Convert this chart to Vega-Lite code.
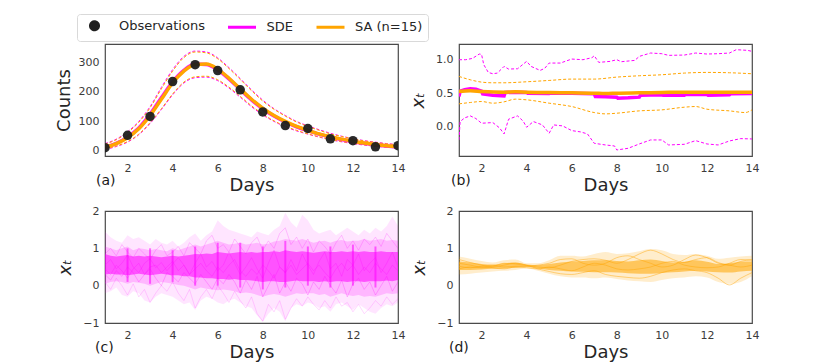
{
  "$schema": "https://vega.github.io/schema/vega-lite/v6.json",
  "padding": {"left": 54, "top": 13, "right": 5, "bottom": 4},
  "background": "white",
  "config": {
    "font": "DejaVu Sans",
    "view": {"stroke": "#4a4a4a", "strokeWidth": 1.2},
    "axis": {"domain": false, "ticks": false, "grid": false, "labelFont": "DejaVu Sans", "labelFontSize": 11, "labelColor": "#3b3b3b", "labelPadding": 6, "titleFont": "DejaVu Sans", "titleFontSize": 18, "titleFontWeight": "normal", "titleColor": "#262626", "labelFlush": false, "labelOverlap": false},
    "axisX": {"titlePadding": 3},
    "axisY": {"titlePadding": 5},
    "title": {"font": "DejaVu Sans", "fontSize": 14, "fontWeight": "normal", "color": "#1a1a1a", "orient": "bottom", "anchor": "start", "frame": "group", "offset": -20}
  },
  "resolve": {"scale": {"color": "shared"}, "legend": {"color": "shared"}},
  "columns": 2,
  "spacing": {"row": 9, "column": 2},
  "datasets": {
    "a": [
      {"d": 1, "m": 12, "ms": 13, "hi": 25, "hi2": 23, "lo": 5, "lo2": 7},
      {"d": 1.5, "m": 25, "ms": 26, "hi": 40, "hi2": 38, "lo": 15, "lo2": 17},
      {"d": 2, "m": 45, "ms": 47, "hi": 65, "hi2": 62, "lo": 30, "lo2": 32},
      {"d": 2.5, "m": 75, "ms": 78, "hi": 100, "hi2": 97, "lo": 55, "lo2": 57},
      {"d": 3, "m": 120, "ms": 124, "hi": 150, "hi2": 146, "lo": 93, "lo2": 96},
      {"d": 3.5, "m": 175, "ms": 180, "hi": 215, "hi2": 210, "lo": 140, "lo2": 143},
      {"d": 4, "m": 230, "ms": 234, "hi": 275, "hi2": 270, "lo": 190, "lo2": 193},
      {"d": 4.5, "m": 270, "ms": 273, "hi": 320, "hi2": 316, "lo": 230, "lo2": 233},
      {"d": 5, "m": 293, "ms": 294, "hi": 338, "hi2": 335, "lo": 248, "lo2": 251},
      {"d": 5.5, "m": 294, "ms": 293, "hi": 335, "hi2": 332, "lo": 250, "lo2": 253},
      {"d": 6, "m": 277, "ms": 275, "hi": 315, "hi2": 312, "lo": 238, "lo2": 241},
      {"d": 6.5, "m": 246, "ms": 244, "hi": 282, "hi2": 279, "lo": 213, "lo2": 216},
      {"d": 7, "m": 210, "ms": 208, "hi": 245, "hi2": 242, "lo": 182, "lo2": 185},
      {"d": 7.5, "m": 175, "ms": 173, "hi": 207, "hi2": 204, "lo": 150, "lo2": 153},
      {"d": 8, "m": 145, "ms": 143, "hi": 172, "hi2": 169, "lo": 122, "lo2": 125},
      {"d": 8.5, "m": 120, "ms": 118, "hi": 143, "hi2": 141, "lo": 100, "lo2": 102},
      {"d": 9, "m": 100, "ms": 98, "hi": 120, "hi2": 118, "lo": 82, "lo2": 84},
      {"d": 9.5, "m": 83, "ms": 82, "hi": 100, "hi2": 98, "lo": 68, "lo2": 70},
      {"d": 10, "m": 70, "ms": 69, "hi": 85, "hi2": 83, "lo": 57, "lo2": 58},
      {"d": 10.5, "m": 58, "ms": 57, "hi": 72, "hi2": 70, "lo": 47, "lo2": 48},
      {"d": 11, "m": 48, "ms": 47, "hi": 60, "hi2": 58, "lo": 38, "lo2": 39},
      {"d": 11.5, "m": 40, "ms": 39, "hi": 50, "hi2": 49, "lo": 31, "lo2": 32},
      {"d": 12, "m": 33, "ms": 32, "hi": 42, "hi2": 41, "lo": 25, "lo2": 26},
      {"d": 12.5, "m": 27, "ms": 26, "hi": 35, "hi2": 34, "lo": 20, "lo2": 21},
      {"d": 13, "m": 22, "ms": 21, "hi": 30, "hi2": 29, "lo": 16, "lo2": 17},
      {"d": 13.5, "m": 18, "ms": 17, "hi": 25, "hi2": 24, "lo": 13, "lo2": 14},
      {"d": 14, "m": 15, "ms": 14, "hi": 22, "hi2": 21, "lo": 10, "lo2": 11}
    ],
    "obs": [
      {"d": 1, "c": 11}, {"d": 2, "c": 53}, {"d": 3, "c": 117}, {"d": 4, "c": 235}, {"d": 5, "c": 292}, {"d": 6, "c": 272}, {"d": 7, "c": 207},
      {"d": 8, "c": 132}, {"d": 9, "c": 86}, {"d": 10, "c": 76}, {"d": 11, "c": 41}, {"d": 12, "c": 35}, {"d": 13, "c": 14}, {"d": 14, "c": 18}
    ],
    "b_sde_hi": [
      {"d": 1, "v": 1.0}, {"d": 1.3, "v": 1.0}, {"d": 1.6, "v": 1.02}, {"d": 1.9, "v": 1.085}, {"d": 2.0, "v": 1.08}, {"d": 2.1, "v": 0.925}, {"d": 2.3, "v": 0.81}, {"d": 2.5, "v": 0.79}, {"d": 2.7, "v": 0.8}, {"d": 3.0, "v": 0.9}, {"d": 3.2, "v": 0.86}, {"d": 3.6, "v": 0.865}, {"d": 4.0, "v": 0.975}, {"d": 4.2, "v": 0.9}, {"d": 4.6, "v": 0.84}, {"d": 4.8, "v": 0.87}, {"d": 5.0, "v": 0.95}, {"d": 5.5, "v": 0.95}, {"d": 6.0, "v": 1.01}, {"d": 6.5, "v": 1.0}, {"d": 6.9, "v": 1.03}, {"d": 7.0, "v": 1.06}, {"d": 7.2, "v": 0.96}, {"d": 7.7, "v": 0.975}, {"d": 8.0, "v": 1.0}, {"d": 8.2, "v": 0.97}, {"d": 8.8, "v": 0.99}, {"d": 9.0, "v": 1.05}, {"d": 9.5, "v": 1.1}, {"d": 10.0, "v": 1.09}, {"d": 10.3, "v": 1.065}, {"d": 11, "v": 1.07}, {"d": 11.5, "v": 1.1}, {"d": 12, "v": 1.085}, {"d": 12.5, "v": 1.09}, {"d": 13, "v": 1.1}, {"d": 13.3, "v": 1.15}, {"d": 13.8, "v": 1.14}, {"d": 14, "v": 1.125}
    ],
    "b_sde_lo": [
      {"d": 1.0, "v": -0.2}, {"d": 1.05, "v": 0.075}, {"d": 1.25, "v": 0.13}, {"d": 1.5, "v": 0.16}, {"d": 1.75, "v": 0.12}, {"d": 2.0, "v": 0.05}, {"d": 2.5, "v": 0.06}, {"d": 2.8, "v": -0.02}, {"d": 3.0, "v": -0.11}, {"d": 3.2, "v": 0.11}, {"d": 3.6, "v": 0.16}, {"d": 3.85, "v": 0.08}, {"d": 4.0, "v": -0.01}, {"d": 4.3, "v": 0.075}, {"d": 4.7, "v": 0.025}, {"d": 5.0, "v": -0.1}, {"d": 5.2, "v": 0.025}, {"d": 5.6, "v": 0.01}, {"d": 6.0, "v": -0.06}, {"d": 6.4, "v": -0.08}, {"d": 6.7, "v": -0.11}, {"d": 7.0, "v": -0.25}, {"d": 7.5, "v": -0.275}, {"d": 7.9, "v": -0.29}, {"d": 8.0, "v": -0.35}, {"d": 8.5, "v": -0.325}, {"d": 9.0, "v": -0.26}, {"d": 9.5, "v": -0.2}, {"d": 10.0, "v": -0.2}, {"d": 10.3, "v": -0.275}, {"d": 11, "v": -0.265}, {"d": 11.5, "v": -0.21}, {"d": 12, "v": -0.26}, {"d": 12.5, "v": -0.275}, {"d": 13, "v": -0.215}, {"d": 13.5, "v": -0.18}, {"d": 14, "v": -0.185}
    ],
    "b_sa_hi": [
      {"d": 1, "v": 0.75}, {"d": 1.5, "v": 0.7}, {"d": 2, "v": 0.665}, {"d": 2.5, "v": 0.655}, {"d": 3, "v": 0.655}, {"d": 4, "v": 0.67}, {"d": 5, "v": 0.69}, {"d": 6, "v": 0.71}, {"d": 7, "v": 0.71}, {"d": 8, "v": 0.74}, {"d": 9, "v": 0.76}, {"d": 10, "v": 0.775}, {"d": 11, "v": 0.8}, {"d": 12, "v": 0.81}, {"d": 13, "v": 0.805}, {"d": 14, "v": 0.79}
    ],
    "b_sa_lo": [
      {"d": 1, "v": 0.34}, {"d": 1.5, "v": 0.36}, {"d": 2, "v": 0.375}, {"d": 2.5, "v": 0.35}, {"d": 3, "v": 0.37}, {"d": 3.5, "v": 0.41}, {"d": 4, "v": 0.4}, {"d": 5, "v": 0.35}, {"d": 6, "v": 0.3}, {"d": 7, "v": 0.21}, {"d": 7.5, "v": 0.19}, {"d": 8, "v": 0.2}, {"d": 9, "v": 0.235}, {"d": 10, "v": 0.25}, {"d": 11, "v": 0.29}, {"d": 11.5, "v": 0.3}, {"d": 12, "v": 0.26}, {"d": 13, "v": 0.235}, {"d": 13.7, "v": 0.21}, {"d": 14, "v": 0.25}
    ],
    "b_sde_m": [
      {"d": 1.0, "v": 0.45}, {"d": 1.05, "v": 0.53}, {"d": 1.25, "v": 0.55}, {"d": 1.5, "v": 0.565}, {"d": 1.75, "v": 0.56}, {"d": 2.0, "v": 0.53}, {"d": 2.05, "v": 0.49}, {"d": 2.5, "v": 0.47}, {"d": 3.0, "v": 0.46}, {"d": 3.05, "v": 0.51}, {"d": 3.5, "v": 0.515}, {"d": 4.0, "v": 0.51}, {"d": 4.05, "v": 0.5}, {"d": 5.0, "v": 0.495}, {"d": 5.05, "v": 0.5}, {"d": 6.0, "v": 0.5}, {"d": 7.0, "v": 0.49}, {"d": 7.05, "v": 0.45}, {"d": 7.5, "v": 0.445}, {"d": 8.0, "v": 0.44}, {"d": 8.05, "v": 0.425}, {"d": 8.5, "v": 0.43}, {"d": 9.0, "v": 0.44}, {"d": 9.05, "v": 0.47}, {"d": 10, "v": 0.475}, {"d": 10.05, "v": 0.47}, {"d": 11, "v": 0.47}, {"d": 11.05, "v": 0.48}, {"d": 12, "v": 0.48}, {"d": 12.05, "v": 0.47}, {"d": 13, "v": 0.475}, {"d": 13.05, "v": 0.49}, {"d": 14, "v": 0.495}
    ],
    "b_sa_m": [
      {"d": 1, "v": 0.525}, {"d": 1.5, "v": 0.535}, {"d": 2, "v": 0.525}, {"d": 3, "v": 0.515}, {"d": 3.5, "v": 0.52}, {"d": 4, "v": 0.515}, {"d": 5, "v": 0.51}, {"d": 6, "v": 0.505}, {"d": 7, "v": 0.5}, {"d": 7.5, "v": 0.495}, {"d": 8, "v": 0.5}, {"d": 9, "v": 0.505}, {"d": 10, "v": 0.51}, {"d": 11, "v": 0.515}, {"d": 12, "v": 0.515}, {"d": 13, "v": 0.515}, {"d": 14, "v": 0.515}
    ],
    "c": [
      {"d": 1, "lo1": -0.2, "hi1": 1.45, "lo2": 0.05, "hi2": 1.05, "lo3": 0.3, "hi3": 0.85, "l1": 0.55, "l2": 0.3, "l3": 0.85, "l4": 0.45, "l5": 0.1},
      {"d": 1.25, "lo1": -0.15, "hi1": 1.3, "lo2": 0.1, "hi2": 1.0, "lo3": 0.32, "hi3": 0.8, "l1": 0.7, "l2": 0.15, "l3": 1.0, "l4": 0.3, "l5": -0.1},
      {"d": 1.5, "lo1": -0.05, "hi1": 1.2, "lo2": 0.12, "hi2": 0.95, "lo3": 0.3, "hi3": 0.78, "l1": 0.45, "l2": 0.4, "l3": 0.8, "l4": 0.55, "l5": 0.2},
      {"d": 1.75, "lo1": -0.25, "hi1": 1.15, "lo2": 0.1, "hi2": 1.0, "lo3": 0.3, "hi3": 0.8, "l1": 0.6, "l2": 0.25, "l3": 1.1, "l4": 0.4, "l5": 0.0},
      {"d": 2, "lo1": -0.3, "hi1": 1.35, "lo2": 0.05, "hi2": 1.05, "lo3": 0.28, "hi3": 0.82, "l1": 0.82, "l2": 0.5, "l3": 0.9, "l4": 0.2, "l5": -0.25},
      {"d": 2.25, "lo1": -0.15, "hi1": 1.25, "lo2": 0.1, "hi2": 0.95, "lo3": 0.3, "hi3": 0.78, "l1": 0.5, "l2": 0.35, "l3": 0.75, "l4": 0.45, "l5": 0.05},
      {"d": 2.5, "lo1": -0.2, "hi1": 1.3, "lo2": 0.08, "hi2": 1.0, "lo3": 0.32, "hi3": 0.8, "l1": 0.35, "l2": 0.1, "l3": 1.0, "l4": 0.6, "l5": -0.3},
      {"d": 2.75, "lo1": -0.4, "hi1": 1.2, "lo2": 0.05, "hi2": 0.98, "lo3": 0.3, "hi3": 0.78, "l1": 0.6, "l2": 0.3, "l3": 0.85, "l4": 0.3, "l5": -0.1},
      {"d": 3, "lo1": -0.45, "hi1": 1.1, "lo2": 0.0, "hi2": 0.95, "lo3": 0.28, "hi3": 0.8, "l1": 0.72, "l2": 0.45, "l3": 0.7, "l4": 0.5, "l5": -0.45},
      {"d": 3.25, "lo1": -0.3, "hi1": 1.25, "lo2": 0.05, "hi2": 0.98, "lo3": 0.3, "hi3": 0.78, "l1": 0.48, "l2": 0.2, "l3": 0.95, "l4": 0.55, "l5": -0.2},
      {"d": 3.5, "lo1": -0.2, "hi1": 1.15, "lo2": 0.1, "hi2": 0.95, "lo3": 0.32, "hi3": 0.76, "l1": 0.62, "l2": 0.0, "l3": 1.1, "l4": 0.35, "l5": 0.0},
      {"d": 3.75, "lo1": -0.25, "hi1": 1.1, "lo2": 0.08, "hi2": 0.92, "lo3": 0.3, "hi3": 0.78, "l1": 0.4, "l2": 0.35, "l3": 0.8, "l4": 0.5, "l5": -0.15},
      {"d": 4, "lo1": -0.3, "hi1": 1.2, "lo2": 0.05, "hi2": 1.0, "lo3": 0.28, "hi3": 0.8, "l1": 0.58, "l2": 0.25, "l3": 0.9, "l4": 0.65, "l5": 0.1},
      {"d": 4.25, "lo1": -0.4, "hi1": 1.05, "lo2": 0.02, "hi2": 0.95, "lo3": 0.28, "hi3": 0.78, "l1": 0.75, "l2": 0.1, "l3": 1.05, "l4": 0.4, "l5": -0.2},
      {"d": 4.5, "lo1": -0.5, "hi1": 1.15, "lo2": 0.0, "hi2": 1.0, "lo3": 0.25, "hi3": 0.8, "l1": 0.55, "l2": 0.35, "l3": 0.8, "l4": 0.55, "l5": -0.4},
      {"d": 4.75, "lo1": -0.45, "hi1": 1.3, "lo2": -0.05, "hi2": 1.05, "lo3": 0.25, "hi3": 0.82, "l1": 0.3, "l2": 0.2, "l3": 1.15, "l4": 0.3, "l5": -0.1},
      {"d": 5, "lo1": -0.65, "hi1": 1.4, "lo2": -0.1, "hi2": 1.1, "lo3": 0.22, "hi3": 0.85, "l1": 0.6, "l2": 0.05, "l3": 1.0, "l4": 0.45, "l5": -0.6},
      {"d": 5.25, "lo1": -0.4, "hi1": 1.2, "lo2": -0.05, "hi2": 1.05, "lo3": 0.22, "hi3": 0.84, "l1": 0.85, "l2": 0.3, "l3": 0.85, "l4": 0.6, "l5": -0.3},
      {"d": 5.5, "lo1": -0.3, "hi1": 1.35, "lo2": -0.08, "hi2": 1.1, "lo3": 0.2, "hi3": 0.86, "l1": 0.5, "l2": 0.1, "l3": 1.2, "l4": 0.4, "l5": -0.1},
      {"d": 5.75, "lo1": -0.35, "hi1": 1.45, "lo2": -0.1, "hi2": 1.15, "lo3": 0.2, "hi3": 0.85, "l1": 0.65, "l2": -0.1, "l3": 1.35, "l4": 0.25, "l5": -0.35},
      {"d": 6, "lo1": -0.45, "hi1": 1.75, "lo2": -0.12, "hi2": 1.2, "lo3": 0.18, "hi3": 0.9, "l1": 0.4, "l2": 0.2, "l3": 1.0, "l4": 0.5, "l5": 0.0},
      {"d": 6.25, "lo1": -0.5, "hi1": 1.6, "lo2": -0.1, "hi2": 1.15, "lo3": 0.18, "hi3": 0.88, "l1": 0.55, "l2": 0.05, "l3": 1.1, "l4": 0.35, "l5": -0.2},
      {"d": 6.5, "lo1": -0.4, "hi1": 1.5, "lo2": -0.12, "hi2": 1.1, "lo3": 0.16, "hi3": 0.86, "l1": 0.9, "l2": 0.3, "l3": 0.9, "l4": 0.55, "l5": -0.45},
      {"d": 6.75, "lo1": -0.35, "hi1": 1.45, "lo2": -0.15, "hi2": 1.12, "lo3": 0.18, "hi3": 0.88, "l1": 0.6, "l2": 0.1, "l3": 1.25, "l4": 0.7, "l5": -0.15},
      {"d": 7, "lo1": -0.45, "hi1": 1.4, "lo2": -0.2, "hi2": 1.15, "lo3": 0.15, "hi3": 0.9, "l1": 0.3, "l2": -0.2, "l3": 1.05, "l4": 0.4, "l5": -0.4},
      {"d": 7.25, "lo1": -0.55, "hi1": 1.35, "lo2": -0.18, "hi2": 1.1, "lo3": 0.15, "hi3": 0.88, "l1": 0.5, "l2": 0.15, "l3": 0.85, "l4": 0.25, "l5": -0.6},
      {"d": 7.5, "lo1": -0.6, "hi1": 1.3, "lo2": -0.2, "hi2": 1.12, "lo3": 0.14, "hi3": 0.9, "l1": 0.75, "l2": -0.1, "l3": 1.15, "l4": 0.45, "l5": -0.3},
      {"d": 7.75, "lo1": -0.8, "hi1": 1.45, "lo2": -0.25, "hi2": 1.15, "lo3": 0.12, "hi3": 0.88, "l1": 0.45, "l2": 0.25, "l3": 1.3, "l4": 0.3, "l5": -0.75},
      {"d": 8, "lo1": -0.97, "hi1": 1.4, "lo2": -0.3, "hi2": 1.1, "lo3": 0.1, "hi3": 0.9, "l1": 0.2, "l2": -0.3, "l3": 0.95, "l4": 0.55, "l5": -0.95},
      {"d": 8.25, "lo1": -0.75, "hi1": 1.35, "lo2": -0.25, "hi2": 1.12, "lo3": 0.12, "hi3": 0.9, "l1": 0.6, "l2": 0.0, "l3": 1.2, "l4": 0.4, "l5": -0.5},
      {"d": 8.5, "lo1": -0.6, "hi1": 1.5, "lo2": -0.22, "hi2": 1.18, "lo3": 0.12, "hi3": 0.92, "l1": 0.95, "l2": 0.3, "l3": 1.0, "l4": 0.2, "l5": -0.7},
      {"d": 8.75, "lo1": -0.7, "hi1": 1.6, "lo2": -0.25, "hi2": 1.2, "lo3": 0.1, "hi3": 0.9, "l1": 0.5, "l2": -0.2, "l3": 1.4, "l4": 0.5, "l5": -0.4},
      {"d": 9, "lo1": -0.95, "hi1": 1.95, "lo2": -0.3, "hi2": 1.25, "lo3": 0.1, "hi3": 0.95, "l1": 0.35, "l2": 0.1, "l3": 1.55, "l4": 0.35, "l5": -0.9},
      {"d": 9.25, "lo1": -0.6, "hi1": 1.7, "lo2": -0.25, "hi2": 1.22, "lo3": 0.12, "hi3": 0.92, "l1": 0.7, "l2": -0.15, "l3": 1.1, "l4": 0.55, "l5": -0.6},
      {"d": 9.5, "lo1": -0.5, "hi1": 1.55, "lo2": -0.2, "hi2": 1.2, "lo3": 0.14, "hi3": 0.9, "l1": 0.4, "l2": 0.2, "l3": 1.3, "l4": 0.3, "l5": -0.35},
      {"d": 9.75, "lo1": -0.55, "hi1": 1.9, "lo2": -0.22, "hi2": 1.25, "lo3": 0.12, "hi3": 0.92, "l1": 0.85, "l2": 0.05, "l3": 1.0, "l4": 0.45, "l5": -0.55},
      {"d": 10, "lo1": -0.45, "hi1": 1.75, "lo2": -0.2, "hi2": 1.2, "lo3": 0.12, "hi3": 0.9, "l1": 0.55, "l2": -0.25, "l3": 1.25, "l4": 0.6, "l5": -0.3},
      {"d": 10.25, "lo1": -0.5, "hi1": 1.5, "lo2": -0.2, "hi2": 1.15, "lo3": 0.12, "hi3": 0.88, "l1": 0.3, "l2": 0.1, "l3": 0.9, "l4": 0.4, "l5": -0.5},
      {"d": 10.5, "lo1": -0.6, "hi1": 1.4, "lo2": -0.25, "hi2": 1.18, "lo3": 0.1, "hi3": 0.9, "l1": 0.65, "l2": -0.1, "l3": 1.2, "l4": 0.55, "l5": -0.65},
      {"d": 10.75, "lo1": -0.55, "hi1": 1.45, "lo2": -0.22, "hi2": 1.2, "lo3": 0.12, "hi3": 0.92, "l1": 0.9, "l2": 0.25, "l3": 1.05, "l4": 0.35, "l5": -0.4},
      {"d": 11, "lo1": -0.7, "hi1": 1.5, "lo2": -0.3, "hi2": 1.15, "lo3": 0.1, "hi3": 0.9, "l1": 0.45, "l2": 0.0, "l3": 0.85, "l4": 0.2, "l5": -0.6},
      {"d": 11.25, "lo1": -0.5, "hi1": 1.35, "lo2": -0.25, "hi2": 1.2, "lo3": 0.12, "hi3": 0.9, "l1": 0.6, "l2": -0.2, "l3": 1.15, "l4": 0.45, "l5": -0.3},
      {"d": 11.5, "lo1": -0.45, "hi1": 1.45, "lo2": -0.2, "hi2": 1.22, "lo3": 0.12, "hi3": 0.92, "l1": 0.25, "l2": 0.15, "l3": 1.35, "l4": 0.6, "l5": -0.55},
      {"d": 11.75, "lo1": -0.55, "hi1": 1.55, "lo2": -0.25, "hi2": 1.18, "lo3": 0.1, "hi3": 0.9, "l1": 0.7, "l2": -0.3, "l3": 1.0, "l4": 0.4, "l5": -0.45},
      {"d": 12, "lo1": -0.65, "hi1": 1.45, "lo2": -0.28, "hi2": 1.2, "lo3": 0.12, "hi3": 0.92, "l1": 0.55, "l2": 0.05, "l3": 1.2, "l4": 0.55, "l5": -0.7},
      {"d": 12.25, "lo1": -0.5, "hi1": 1.35, "lo2": -0.25, "hi2": 1.2, "lo3": 0.12, "hi3": 0.9, "l1": 0.85, "l2": 0.2, "l3": 0.95, "l4": 0.3, "l5": -0.5},
      {"d": 12.5, "lo1": -0.6, "hi1": 1.5, "lo2": -0.3, "hi2": 1.25, "lo3": 0.1, "hi3": 0.92, "l1": 0.4, "l2": -0.1, "l3": 1.25, "l4": 0.5, "l5": -0.75},
      {"d": 12.75, "lo1": -0.7, "hi1": 1.4, "lo2": -0.28, "hi2": 1.2, "lo3": 0.12, "hi3": 0.9, "l1": 0.6, "l2": 0.1, "l3": 1.1, "l4": 0.35, "l5": -0.6},
      {"d": 13, "lo1": -0.75, "hi1": 1.55, "lo2": -0.3, "hi2": 1.22, "lo3": 0.12, "hi3": 0.9, "l1": 0.75, "l2": -0.25, "l3": 1.3, "l4": 0.6, "l5": -0.4},
      {"d": 13.25, "lo1": -0.6, "hi1": 1.45, "lo2": -0.25, "hi2": 1.25, "lo3": 0.12, "hi3": 0.92, "l1": 0.35, "l2": 0.0, "l3": 1.05, "l4": 0.45, "l5": -0.55},
      {"d": 13.5, "lo1": -0.5, "hi1": 1.6, "lo2": -0.2, "hi2": 1.2, "lo3": 0.14, "hi3": 0.9, "l1": 0.6, "l2": 0.25, "l3": 1.4, "l4": 0.3, "l5": -0.3},
      {"d": 13.75, "lo1": -0.55, "hi1": 1.85, "lo2": -0.22, "hi2": 1.22, "lo3": 0.12, "hi3": 0.9, "l1": 0.9, "l2": -0.15, "l3": 1.2, "l4": 0.55, "l5": -0.5},
      {"d": 14, "lo1": -0.45, "hi1": 1.6, "lo2": -0.2, "hi2": 1.2, "lo3": 0.15, "hi3": 0.9, "l1": 0.5, "l2": 0.1, "l3": 1.0, "l4": 0.4, "l5": -0.35}
    ],
    "cs": [
      {"d": 2, "lo": 0.1, "hi": 1.0}, {"d": 3, "lo": 0.05, "hi": 1.0}, {"d": 4, "lo": 0.1, "hi": 0.95}, {"d": 5, "lo": 0.0, "hi": 1.05},
      {"d": 6, "lo": 0.0, "hi": 1.15}, {"d": 7, "lo": -0.05, "hi": 1.15}, {"d": 8, "lo": -0.1, "hi": 1.05}, {"d": 9, "lo": -0.05, "hi": 1.2},
      {"d": 10, "lo": 0.0, "hi": 1.05}, {"d": 11, "lo": -0.05, "hi": 1.05}, {"d": 12, "lo": 0.0, "hi": 1.1}, {"d": 13, "lo": -0.05, "hi": 1.05}
    ],
    "dd": [
      {"d": 1, "olo": 0.3, "ohi": 0.78, "ilo": 0.42, "ihi": 0.65, "m1": 0.6, "m2": 0.45, "m3": 0.52, "m4": 0.7},
      {"d": 1.5, "olo": 0.32, "ohi": 0.72, "ilo": 0.42, "ihi": 0.62, "m1": 0.55, "m2": 0.5, "m3": 0.48, "m4": 0.62},
      {"d": 2, "olo": 0.35, "ohi": 0.66, "ilo": 0.43, "ihi": 0.58, "m1": 0.5, "m2": 0.48, "m3": 0.52, "m4": 0.55},
      {"d": 2.5, "olo": 0.38, "ohi": 0.62, "ilo": 0.45, "ihi": 0.56, "m1": 0.52, "m2": 0.5, "m3": 0.55, "m4": 0.48},
      {"d": 3, "olo": 0.4, "ohi": 0.68, "ilo": 0.46, "ihi": 0.6, "m1": 0.6, "m2": 0.55, "m3": 0.5, "m4": 0.45},
      {"d": 3.5, "olo": 0.42, "ohi": 0.7, "ilo": 0.48, "ihi": 0.62, "m1": 0.58, "m2": 0.6, "m3": 0.52, "m4": 0.5},
      {"d": 4, "olo": 0.46, "ohi": 0.6, "ilo": 0.5, "ihi": 0.57, "m1": 0.54, "m2": 0.55, "m3": 0.52, "m4": 0.48},
      {"d": 4.5, "olo": 0.4, "ohi": 0.6, "ilo": 0.46, "ihi": 0.55, "m1": 0.5, "m2": 0.45, "m3": 0.55, "m4": 0.45},
      {"d": 5, "olo": 0.32, "ohi": 0.68, "ilo": 0.42, "ihi": 0.58, "m1": 0.48, "m2": 0.38, "m3": 0.6, "m4": 0.5},
      {"d": 5.5, "olo": 0.25, "ohi": 0.8, "ilo": 0.4, "ihi": 0.62, "m1": 0.55, "m2": 0.32, "m3": 0.7, "m4": 0.45},
      {"d": 6, "olo": 0.22, "ohi": 0.8, "ilo": 0.38, "ihi": 0.65, "m1": 0.65, "m2": 0.3, "m3": 0.72, "m4": 0.4},
      {"d": 6.5, "olo": 0.22, "ohi": 0.78, "ilo": 0.37, "ihi": 0.66, "m1": 0.7, "m2": 0.35, "m3": 0.6, "m4": 0.5},
      {"d": 7, "olo": 0.2, "ohi": 0.85, "ilo": 0.36, "ihi": 0.68, "m1": 0.72, "m2": 0.4, "m3": 0.55, "m4": 0.6},
      {"d": 7.5, "olo": 0.22, "ohi": 0.9, "ilo": 0.36, "ihi": 0.68, "m1": 0.68, "m2": 0.3, "m3": 0.6, "m4": 0.55},
      {"d": 8, "olo": 0.18, "ohi": 0.85, "ilo": 0.35, "ihi": 0.66, "m1": 0.6, "m2": 0.25, "m3": 0.75, "m4": 0.45},
      {"d": 8.5, "olo": 0.14, "ohi": 0.87, "ilo": 0.33, "ihi": 0.65, "m1": 0.7, "m2": 0.22, "m3": 0.8, "m4": 0.42},
      {"d": 9, "olo": 0.12, "ohi": 0.92, "ilo": 0.32, "ihi": 0.68, "m1": 0.85, "m2": 0.2, "m3": 0.7, "m4": 0.45},
      {"d": 9.5, "olo": 0.1, "ohi": 0.98, "ilo": 0.32, "ihi": 0.7, "m1": 0.95, "m2": 0.25, "m3": 0.6, "m4": 0.5},
      {"d": 10, "olo": 0.15, "ohi": 0.95, "ilo": 0.34, "ihi": 0.66, "m1": 0.85, "m2": 0.35, "m3": 0.5, "m4": 0.6},
      {"d": 10.5, "olo": 0.2, "ohi": 0.85, "ilo": 0.36, "ihi": 0.62, "m1": 0.7, "m2": 0.42, "m3": 0.55, "m4": 0.65},
      {"d": 11, "olo": 0.22, "ohi": 0.82, "ilo": 0.38, "ihi": 0.64, "m1": 0.62, "m2": 0.45, "m3": 0.7, "m4": 0.55},
      {"d": 11.5, "olo": 0.25, "ohi": 0.85, "ilo": 0.4, "ihi": 0.68, "m1": 0.7, "m2": 0.4, "m3": 0.82, "m4": 0.5},
      {"d": 12, "olo": 0.22, "ohi": 0.8, "ilo": 0.38, "ihi": 0.64, "m1": 0.75, "m2": 0.35, "m3": 0.75, "m4": 0.48},
      {"d": 12.5, "olo": 0.1, "ohi": 0.72, "ilo": 0.36, "ihi": 0.58, "m1": 0.62, "m2": 0.2, "m3": 0.6, "m4": 0.5},
      {"d": 13, "olo": 0.05, "ohi": 0.75, "ilo": 0.35, "ihi": 0.6, "m1": 0.55, "m2": 0.02, "m3": 0.55, "m4": 0.6},
      {"d": 13.5, "olo": 0.1, "ohi": 0.78, "ilo": 0.38, "ihi": 0.64, "m1": 0.65, "m2": 0.2, "m3": 0.5, "m4": 0.7},
      {"d": 14, "olo": 0.25, "ohi": 0.8, "ilo": 0.4, "ihi": 0.65, "m1": 0.7, "m2": 0.35, "m3": 0.55, "m4": 0.68}
    ]
  },
  "concat": [
    {
      "width": 293, "height": 112,
      "title": {"text": "(a)", "dx": -9},
      "encoding": {
        "x": {"field": "d", "type": "quantitative", "title": "Days", "scale": {"domain": [1, 14], "nice": false, "zero": false}, "axis": {"values": [2, 4, 6, 8, 10, 12, 14], "format": "d", "tickCount": 20}}
      },
      "layer": [
        {"data": {"name": "a"}, "mark": {"type": "line", "strokeWidth": 1, "strokeDash": [3, 2], "interpolate": "monotone", "clip": true},
         "encoding": {"y": {"field": "hi", "type": "quantitative", "title": "Counts", "scale": {"domain": [-17, 362], "nice": false, "zero": false}, "axis": {"values": [0, 100, 200, 300], "tickCount": 20}},
           "color": {"datum": "SDE", "type": "nominal", "scale": {"domain": ["Observations", "SDE", "SA (n=15)"], "range": ["#1f1f1f", "#ff00ff", "#ffa500"]},
             "legend": {"orient": "none", "legendX": -28, "legendY": -30, "direction": "horizontal", "title": null, "symbolSize": 64, "symbolType": "circle", "symbolStrokeWidth": 3, "symbolOffset": 6, "labelFont": "DejaVu Sans", "labelFontSize": 13, "labelColor": "#262626", "labelOffset": 18, "columnPadding": 16.5, "padding": 5, "strokeColor": "#d9d9d9", "cornerRadius": 3, "fillColor": "white",
               "encode": {"symbols": {"update": {
                 "shape": {"signal": "datum.label === 'Observations' ? 'circle' : 'M-3.5,0H3.5'"},
                 "size": {"value": 64},
                 "fill": {"signal": "datum.label === 'Observations' ? '#1f1f1f' : 'transparent'"},
                 "stroke": {"signal": "datum.label === 'SDE' ? '#ff00ff' : (datum.label === 'Observations' ? 'transparent' : '#ffa500')"},
                 "strokeWidth": {"value": 3},
                 "strokeDash": {"value": [1, 0]},
                 "opacity": {"value": 1}
               }}}}}}},
        {"data": {"name": "a"}, "mark": {"type": "line", "strokeWidth": 1, "strokeDash": [3, 2], "interpolate": "monotone", "clip": true},
         "encoding": {"y": {"field": "lo", "type": "quantitative", "title": "Counts"}, "color": {"datum": "SDE", "type": "nominal"}}},
        {"data": {"name": "a"}, "mark": {"type": "line", "strokeWidth": 1, "strokeDash": [3, 2], "interpolate": "monotone", "clip": true},
         "encoding": {"y": {"field": "hi2", "type": "quantitative", "title": "Counts"}, "color": {"datum": "SA (n=15)", "type": "nominal"}}},
        {"data": {"name": "a"}, "mark": {"type": "line", "strokeWidth": 1, "strokeDash": [3, 2], "interpolate": "monotone", "clip": true},
         "encoding": {"y": {"field": "lo2", "type": "quantitative", "title": "Counts"}, "color": {"datum": "SA (n=15)", "type": "nominal"}}},
        {"data": {"name": "a"}, "mark": {"type": "line", "strokeWidth": 3.5, "interpolate": "monotone", "clip": true},
         "encoding": {"y": {"field": "ms", "type": "quantitative", "title": "Counts"}, "color": {"datum": "SDE", "type": "nominal"}}},
        {"data": {"name": "a"}, "mark": {"type": "line", "strokeWidth": 3.5, "interpolate": "monotone", "clip": true},
         "encoding": {"y": {"field": "m", "type": "quantitative", "title": "Counts"}, "color": {"datum": "SA (n=15)", "type": "nominal"}}},
        {"data": {"name": "obs"}, "mark": {"type": "point", "filled": true, "size": 90, "opacity": 0.95, "clip": true},
         "encoding": {"y": {"field": "c", "type": "quantitative", "title": "Counts"}, "color": {"datum": "Observations", "type": "nominal"}}}
      ]
    },
    {
      "width": 293, "height": 112,
      "title": {"text": "(b)", "dx": -8},
      "encoding": {
        "x": {"field": "d", "type": "quantitative", "title": "Days", "scale": {"domain": [1, 14], "nice": false, "zero": false}, "axis": {"values": [2, 4, 6, 8, 10, 12, 14], "format": "d", "tickCount": 20}}
      },
      "layer": [
        {"data": {"name": "b_sde_hi"}, "mark": {"type": "line", "strokeWidth": 1, "strokeDash": [3, 2], "clip": true},
         "encoding": {"y": {"field": "v", "type": "quantitative", "title": "xₜ", "scale": {"domain": [-0.44, 1.235], "nice": false, "zero": false}, "axis": {"values": [0, 0.5, 1], "format": ".1f", "tickCount": 20, "titlePadding": 8, "titleFontStyle": "italic"}}, "color": {"datum": "SDE", "type": "nominal"}}},
        {"data": {"name": "b_sde_lo"}, "mark": {"type": "line", "strokeWidth": 1, "strokeDash": [3, 2], "clip": true},
         "encoding": {"y": {"field": "v", "type": "quantitative", "title": "xₜ"}, "color": {"datum": "SDE", "type": "nominal"}}},
        {"data": {"name": "b_sa_hi"}, "mark": {"type": "line", "strokeWidth": 1, "strokeDash": [3, 2], "interpolate": "monotone", "clip": true},
         "encoding": {"y": {"field": "v", "type": "quantitative", "title": "xₜ"}, "color": {"datum": "SA (n=15)", "type": "nominal"}}},
        {"data": {"name": "b_sa_lo"}, "mark": {"type": "line", "strokeWidth": 1, "strokeDash": [3, 2], "interpolate": "monotone", "clip": true},
         "encoding": {"y": {"field": "v", "type": "quantitative", "title": "xₜ"}, "color": {"datum": "SA (n=15)", "type": "nominal"}}},
        {"data": {"name": "b_sde_m"}, "mark": {"type": "line", "strokeWidth": 3.5, "clip": true},
         "encoding": {"y": {"field": "v", "type": "quantitative", "title": "xₜ"}, "color": {"datum": "SDE", "type": "nominal"}}},
        {"data": {"name": "b_sa_m"}, "mark": {"type": "line", "strokeWidth": 3.5, "interpolate": "monotone", "clip": true},
         "encoding": {"y": {"field": "v", "type": "quantitative", "title": "xₜ"}, "color": {"datum": "SA (n=15)", "type": "nominal"}}}
      ]
    },
    {
      "width": 293, "height": 112,
      "title": {"text": "(c)", "dx": -10},
      "encoding": {
        "x": {"field": "d", "type": "quantitative", "title": "Days", "scale": {"domain": [1, 14], "nice": false, "zero": false}, "axis": {"values": [2, 4, 6, 8, 10, 12, 14], "format": "d", "tickCount": 20}}
      },
      "layer": [
        {"data": {"name": "c"}, "mark": {"type": "area", "color": "#ff00ff", "opacity": 0.1, "clip": true},
         "encoding": {"y": {"field": "lo1", "type": "quantitative", "title": "xₜ", "scale": {"domain": [-1, 2], "nice": false, "zero": false}, "axis": {"values": [-1, 0, 1, 2], "format": "d", "tickCount": 20, "titlePadding": 8, "titleFontStyle": "italic"}}, "y2": {"field": "hi1"}}},
        {"data": {"name": "c"}, "mark": {"type": "area", "color": "#ff00ff", "opacity": 0.2, "clip": true},
         "encoding": {"y": {"field": "lo2", "type": "quantitative", "title": "xₜ"}, "y2": {"field": "hi2"}}},
        {"data": {"name": "c"}, "mark": {"type": "area", "color": "#ff00ff", "opacity": 0.55, "clip": true},
         "encoding": {"y": {"field": "lo3", "type": "quantitative", "title": "xₜ"}, "y2": {"field": "hi3"}}},
        {"data": {"name": "c"}, "mark": {"type": "line", "color": "#ff00ff", "opacity": 0.3, "strokeWidth": 0.8, "clip": true},
         "encoding": {"y": {"field": "l1", "type": "quantitative", "title": "xₜ"}}},
        {"data": {"name": "c"}, "mark": {"type": "line", "color": "#ff00ff", "opacity": 0.3, "strokeWidth": 0.8, "clip": true},
         "encoding": {"y": {"field": "l2", "type": "quantitative", "title": "xₜ"}}},
        {"data": {"name": "c"}, "mark": {"type": "line", "color": "#ff00ff", "opacity": 0.25, "strokeWidth": 0.8, "clip": true},
         "encoding": {"y": {"field": "l3", "type": "quantitative", "title": "xₜ"}}},
        {"data": {"name": "c"}, "mark": {"type": "line", "color": "#ff00ff", "opacity": 0.3, "strokeWidth": 0.8, "clip": true},
         "encoding": {"y": {"field": "l4", "type": "quantitative", "title": "xₜ"}}},
        {"data": {"name": "c"}, "mark": {"type": "line", "color": "#ff00ff", "opacity": 0.2, "strokeWidth": 0.8, "clip": true},
         "encoding": {"y": {"field": "l5", "type": "quantitative", "title": "xₜ"}}},
        {"data": {"name": "cs"}, "mark": {"type": "rule", "color": "#ff00ff", "opacity": 0.55, "strokeWidth": 2, "clip": true},
         "encoding": {"y": {"field": "lo", "type": "quantitative", "title": "xₜ"}, "y2": {"field": "hi"}}}
      ]
    },
    {
      "width": 293, "height": 112,
      "title": {"text": "(d)", "dx": -10},
      "encoding": {
        "x": {"field": "d", "type": "quantitative", "title": "Days", "scale": {"domain": [1, 14], "nice": false, "zero": false}, "axis": {"values": [2, 4, 6, 8, 10, 12, 14], "format": "d", "tickCount": 20}}
      },
      "layer": [
        {"data": {"name": "dd"}, "mark": {"type": "area", "color": "#ffa500", "opacity": 0.2, "interpolate": "monotone", "clip": true},
         "encoding": {"y": {"field": "olo", "type": "quantitative", "title": "xₜ", "scale": {"domain": [-1, 2], "nice": false, "zero": false}, "axis": {"values": [-1, 0, 1, 2], "format": "d", "tickCount": 20, "titlePadding": 8, "titleFontStyle": "italic"}}, "y2": {"field": "ohi"}}},
        {"data": {"name": "dd"}, "mark": {"type": "area", "color": "#ffa500", "opacity": 0.55, "interpolate": "monotone", "clip": true},
         "encoding": {"y": {"field": "ilo", "type": "quantitative", "title": "xₜ"}, "y2": {"field": "ihi"}}},
        {"data": {"name": "dd"}, "mark": {"type": "line", "color": "#ffa500", "opacity": 0.45, "strokeWidth": 1, "interpolate": "monotone", "clip": true},
         "encoding": {"y": {"field": "m1", "type": "quantitative", "title": "xₜ"}}},
        {"data": {"name": "dd"}, "mark": {"type": "line", "color": "#ffa500", "opacity": 0.45, "strokeWidth": 1, "interpolate": "monotone", "clip": true},
         "encoding": {"y": {"field": "m2", "type": "quantitative", "title": "xₜ"}}},
        {"data": {"name": "dd"}, "mark": {"type": "line", "color": "#ffa500", "opacity": 0.45, "strokeWidth": 1, "interpolate": "monotone", "clip": true},
         "encoding": {"y": {"field": "m3", "type": "quantitative", "title": "xₜ"}}},
        {"data": {"name": "dd"}, "mark": {"type": "line", "color": "#ffa500", "opacity": 0.45, "strokeWidth": 1, "interpolate": "monotone", "clip": true},
         "encoding": {"y": {"field": "m4", "type": "quantitative", "title": "xₜ"}}}
      ]
    }
  ]
}
